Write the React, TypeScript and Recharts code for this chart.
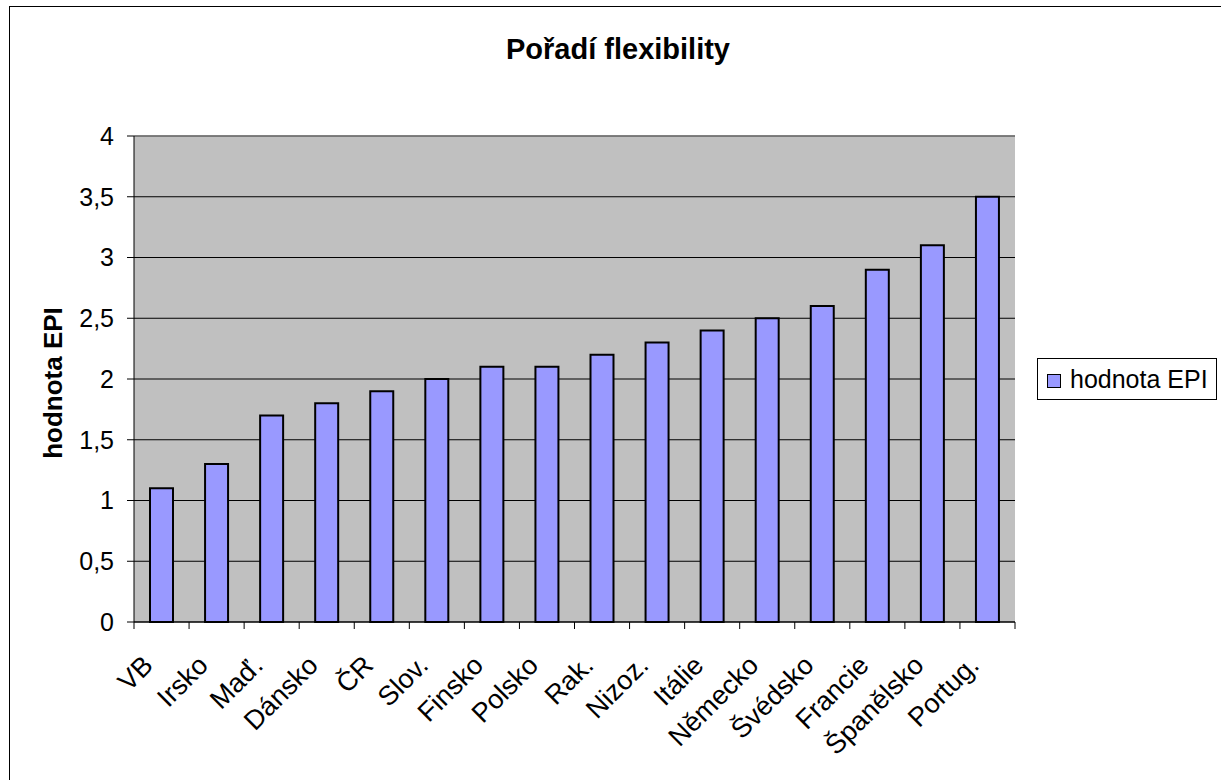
import React from 'react';
import {
  BarChart,
  Bar,
  XAxis,
  YAxis,
  CartesianGrid,
  ReferenceLine,
} from 'recharts';

// data
const countries = [
  'VB', 'Irsko', 'Maď.', 'Dánsko', 'ČR', 'Slov.', 'Finsko', 'Polsko',
  'Rak.', 'Nizoz.', 'Itálie', 'Německo', 'Švédsko', 'Francie', 'Španělsko', 'Portug.',
];
const epiValues = [1.1, 1.3, 1.7, 1.8, 1.9, 2.0, 2.1, 2.1, 2.2, 2.3, 2.4, 2.5, 2.6, 2.9, 3.1, 3.5];
const yTicks = [0, 0.5, 1, 1.5, 2, 2.5, 3, 3.5, 4];

const seriesName = 'hodnota EPI';
const chartData = countries.map((name, i) => ({ name, epi: epiValues[i] }));

const FONT = '"Liberation Sans", Arial, sans-serif';
const W = 1221;
const H = 780;
const PLOT_LEFT = 134;
const PLOT_RIGHT = 1015;
const PLOT_TOP = 136;
const PLOT_BOTTOM = 622;
const BAND = (PLOT_RIGHT - PLOT_LEFT) / countries.length;

const fmt = (v: number) => String(v).replace('.', ',');

const CategoryTick = (props: any) => {
  const { x, y, payload, index } = props;
  const ax = x - 7;
  const ay = y + 45;
  const last = index === countries.length - 1;
  return (
    <g>
      <line x1={x - BAND / 2} y1={y} x2={x - BAND / 2} y2={y + 7} stroke="#000" strokeWidth={1} />
      {last && <line x1={x + BAND / 2} y1={y} x2={x + BAND / 2} y2={y + 7} stroke="#000" strokeWidth={1} />}
      <text
        x={ax}
        y={ay}
        textAnchor="end"
        fontSize={27}
        fontFamily={FONT}
        fill="#000"
        transform={`rotate(-45 ${ax} ${ay})`}
      >
        {payload.value}
      </text>
    </g>
  );
};

// legend drawn as plain html next to the plot
const LegendBox = () => (
  <div
    style={{
      position: 'absolute',
      left: 1037,
      top: 358,
      width: 180,
      height: 42,
      border: '1px solid #000',
      boxSizing: 'border-box',
      background: '#fff',
      display: 'flex',
      alignItems: 'center',
      fontFamily: FONT,
      fontSize: 25,
      color: '#000',
    }}
  >
    <span
      style={{
        display: 'inline-block',
        width: 12,
        height: 12,
        background: '#9999FF',
        border: '1px solid #000',
        marginLeft: 9,
        marginRight: 9,
        marginTop: 4,
      }}
    />
    <span>{seriesName}</span>
  </div>
);

export default function App() {
  return (
    <div style={{ position: 'fixed', left: 0, top: 0, width: W, height: H, overflow: 'hidden', background: '#fff' }}>
      <div
        style={{
          position: 'absolute',
          left: 9,
          top: 6,
          width: W + 20,
          height: H + 20,
          border: '1px solid #000',
        }}
      />
      <div style={{ position: 'absolute', left: 0, top: 0 }}>
        <BarChart
          width={W}
          height={H}
          data={chartData}
          margin={{ top: PLOT_TOP, right: W - PLOT_RIGHT, bottom: 0, left: 0 }}
          barSize={23}
        >
          <CartesianGrid vertical={false} fill="#C0C0C0" stroke="#000" strokeOpacity={1} />
          <XAxis
            dataKey="name"
            interval={0}
            tickLine={false}
            tickSize={0}
            tickMargin={0}
            axisLine={{ stroke: '#000', strokeWidth: 1 }}
            tick={<CategoryTick />}
            height={H - PLOT_BOTTOM}
          />
          <YAxis
            domain={[0, 4]}
            ticks={yTicks}
            width={PLOT_LEFT}
            tickFormatter={fmt}
            tickSize={7}
            tickMargin={13}
            tickLine={{ stroke: '#000' }}
            axisLine={{ stroke: '#000' }}
            tick={{ fontSize: 25, fontFamily: FONT, fill: '#000' }}
            interval={0}
          />
          <YAxis
            yAxisId="r"
            orientation="right"
            domain={[0, 4]}
            width={0}
            tick={false}
            tickLine={false}
            axisLine={{ stroke: '#808080', strokeWidth: 1.5 }}
          />
          <ReferenceLine y={4} stroke="#808080" strokeWidth={1.5} />
          <Bar
            dataKey="epi"
            name={seriesName}
            fill="#9999FF"
            stroke="#000"
            strokeWidth={2}
            isAnimationActive={false}
          />
        </BarChart>
      </div>
      <LegendBox />
      <svg
        width={W}
        height={H}
        style={{ position: 'absolute', left: 0, top: 0, pointerEvents: 'none' }}
      >
        <text x={618} y={59} textAnchor="middle" fontFamily={FONT} fontWeight="bold" fontSize={29} fill="#000">
          Pořadí flexibility
        </text>
        <text
          x={62}
          y={383}
          textAnchor="middle"
          fontFamily={FONT}
          fontWeight="bold"
          fontSize={26}
          fill="#000"
          transform="rotate(-90 62 383)"
        >
          hodnota EPI
        </text>
      </svg>
    </div>
  );
}
